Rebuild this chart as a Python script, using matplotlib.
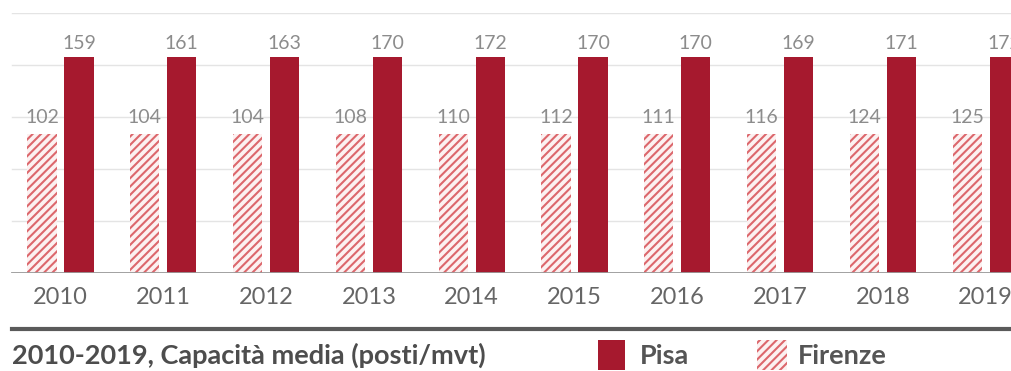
import numpy as np
import matplotlib
matplotlib.use("Agg")
import matplotlib.pyplot as plt
from matplotlib.patches import Rectangle
from matplotlib.lines import Line2D

plt.rcParams['font.family'] = ['Lato', 'DejaVu Sans']
plt.rcParams['hatch.linewidth'] = 1.5

# data
years = ['2010', '2011', '2012', '2013', '2014', '2015', '2016', '2017', '2018', '2019']
pisa = np.array([159, 161, 163, 170, 172, 170, 170, 169, 171, 172])
firenze = np.array([102, 104, 104, 108, 110, 112, 111, 116, 124, 125])

pisa_col = '#a6192e'
fir_col = '#dc676c'
fir_bg = '#fcf1f1'

W, H = 1011, 371
fig = plt.figure(figsize=(W / 100, H / 100), dpi=100)
# axes: baseline at y=273px, top gridline at y=13px
ax = fig.add_axes([0, (H - 273) / H, 1, 260 / H])

x = np.arange(len(years))
off = 0.18
bw = 0.285

# the chart draws every bar of a series at the same height
h_p = np.full(len(x), pisa.min())
h_f = np.full(len(x), firenze.min())
ytop = pisa.min() * 260 / 216

ax.bar(x - off, h_f, bw, color=fir_bg, edgecolor=fir_col, hatch='////', linewidth=0, zorder=3)
ax.bar(x + off, h_p, bw, color=pisa_col, linewidth=0, zorder=3)

for xi, v, h in zip(x, firenze, h_f):
    ax.annotate(str(v), (xi - off, h), xytext=(0, 12.5), textcoords='offset points',
                ha='center', va='center', fontsize=14, color='#8c8c8c')
for xi, v, h in zip(x, pisa, h_p):
    ax.annotate(str(v), (xi + off, h), xytext=(0, 9.5), textcoords='offset points',
                ha='center', va='center', fontsize=14, color='#8c8c8c')

ax.set_xlim(-60.5 / 102.8, (W - 60.5) / 102.8)
ax.set_ylim(0, ytop)

for g in np.linspace(0, ytop, 6)[1:]:
    ax.axhline(g, xmin=12 / W, color='#e4e4e4', lw=1, zorder=1)
ax.axhline(0, xmin=12 / W, color='#9a9a9a', lw=1.3, zorder=4)

ax.set_xticks(x)
ax.set_xticklabels(years, fontsize=17, color='#666666')
ax.tick_params(axis='x', length=0, pad=10)
ax.set_yticks([])
for s in ax.spines.values():
    s.set_visible(False)

# bottom rule, title and legend
fig.add_artist(Line2D([12 / W, 1], [1 - 328.5 / H] * 2, transform=fig.transFigure,
                      color='#5a5a5a', lw=3))
fig.text(12 / W, 1 - 364 / H, '2010-2019, Capacità media (posti/mvt)', fontsize=19.5,
         fontweight='bold', color='#4d4d4d', ha='left', va='baseline')

fig.add_artist(Rectangle((598 / W, 1 - 370 / H), 27 / W, 30 / H, transform=fig.transFigure,
                         color=pisa_col, lw=0))
fig.text(640 / W, 1 - 364 / H, 'Pisa', fontsize=19.5, fontweight='bold', color='#555555',
         ha='left', va='baseline')
fig.add_artist(Rectangle((757 / W, 1 - 370 / H), 30 / W, 30 / H, transform=fig.transFigure,
                         facecolor=fir_bg, edgecolor=fir_col, hatch='////', lw=0))
fig.text(798 / W, 1 - 364 / H, 'Firenze', fontsize=19.5, fontweight='bold', color='#555555',
         ha='left', va='baseline')

fig.savefig('out.png', dpi=100)
